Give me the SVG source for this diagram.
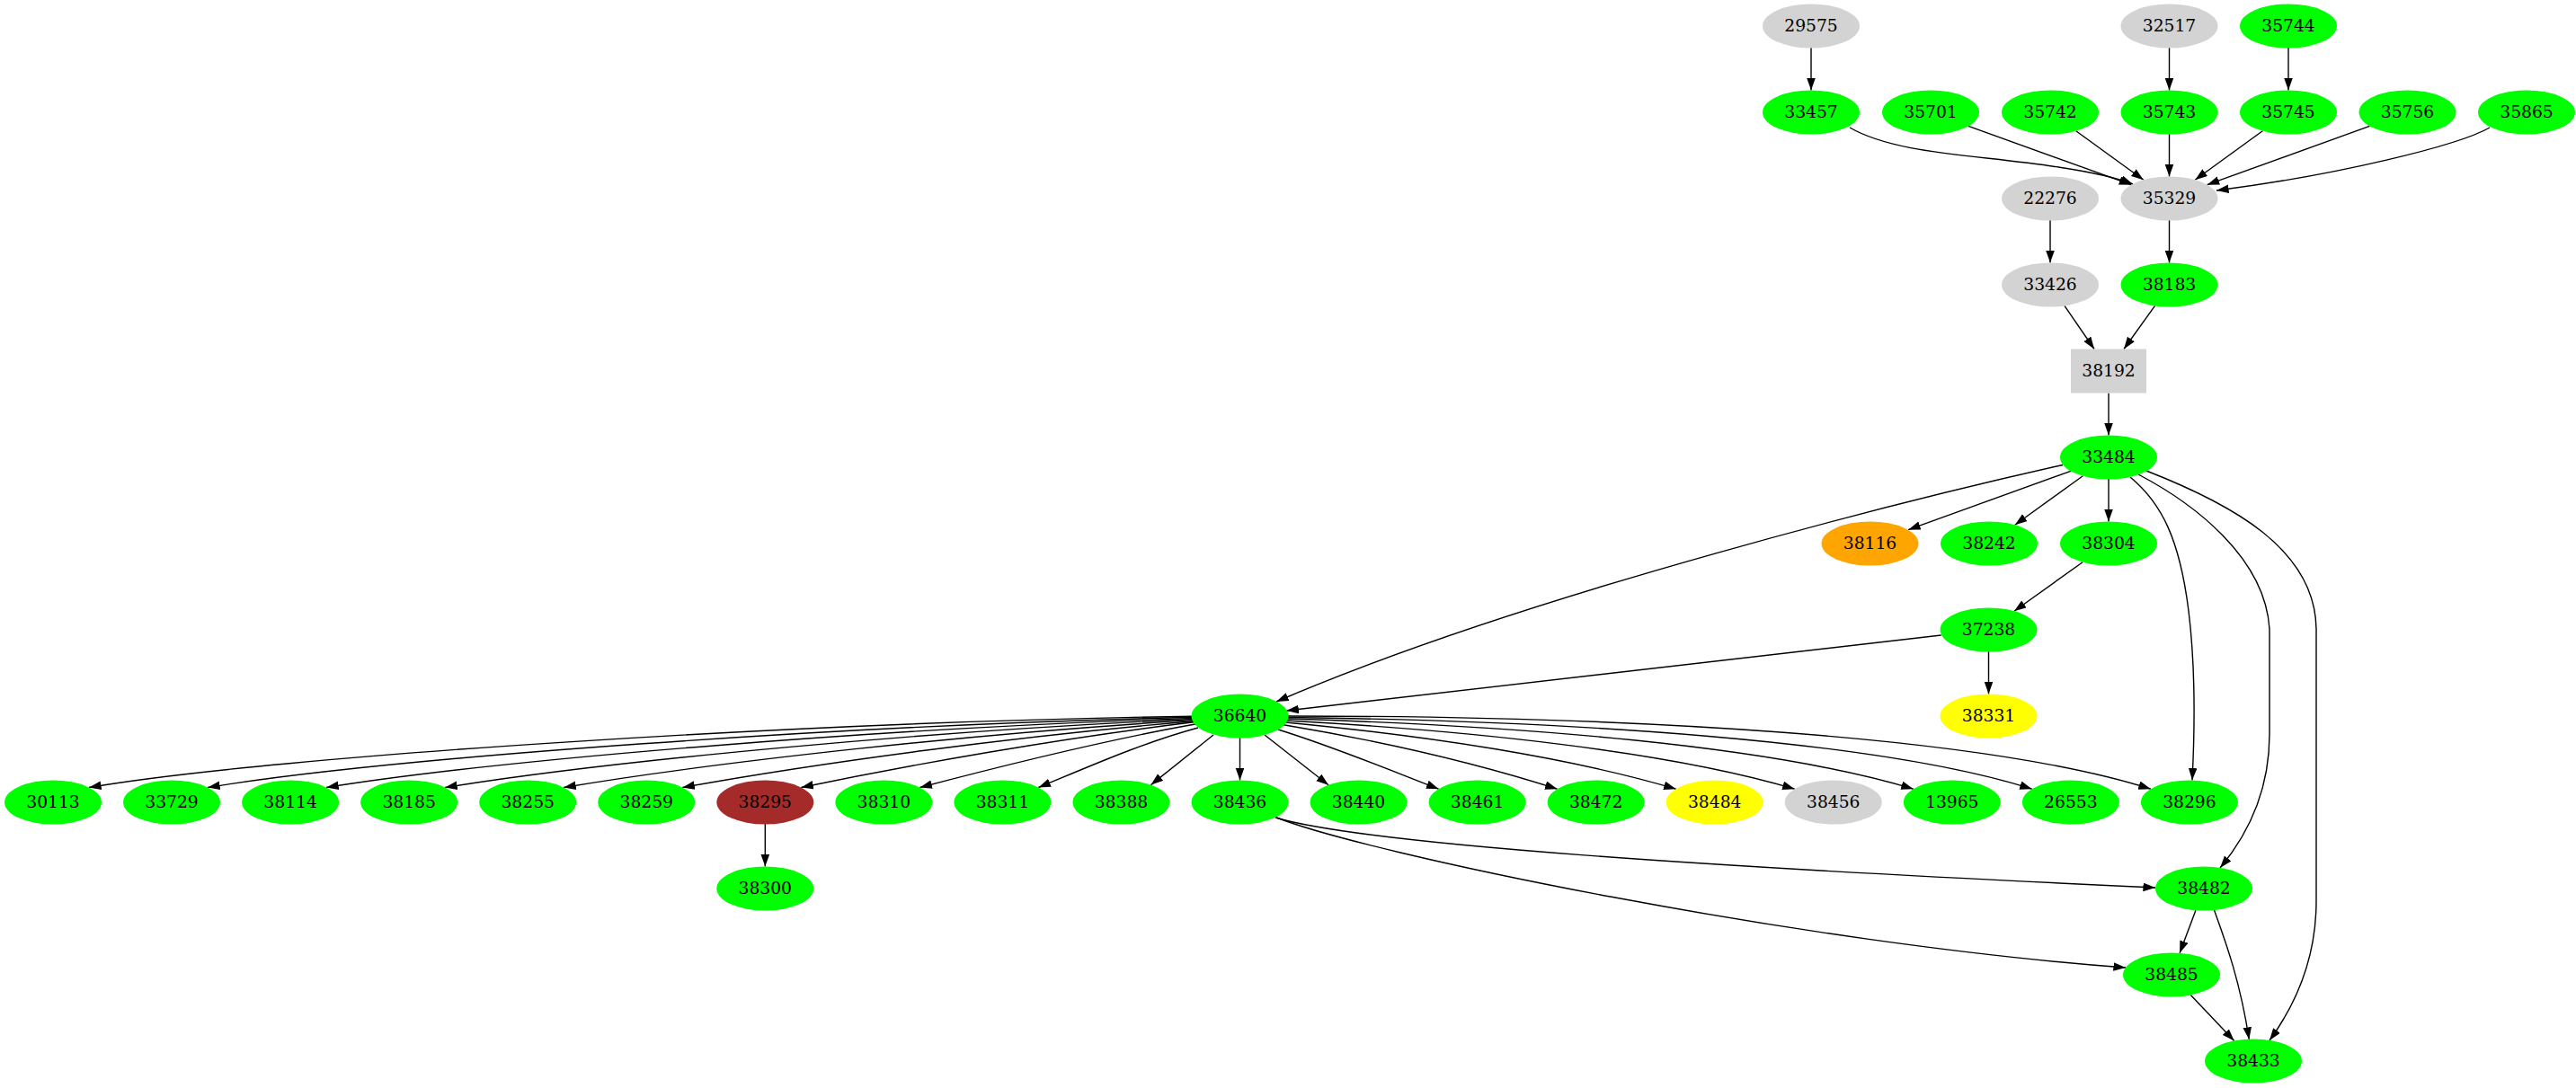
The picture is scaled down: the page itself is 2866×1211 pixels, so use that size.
<svg xmlns="http://www.w3.org/2000/svg" width="2866" height="1211" viewBox="0 0 2866 1211">
<style>
text{font-family:"DejaVu Serif","Liberation Serif",serif;font-size:18.7px;text-anchor:middle;fill:#000}
.g{fill:#00ff00}.l{fill:#d3d3d3}.o{fill:#ffa500}.y{fill:#ffff00}.b{fill:#a52a2a}
.e path{fill:none;stroke:#000;stroke-width:1.4;marker-end:url(#ah)}
</style>
<defs>
<marker id="ah" markerUnits="userSpaceOnUse" markerWidth="14" markerHeight="10" refX="13.6" refY="4.8" orient="auto"><path d="M0,0 L13.6,4.8 L0,9.6 z" fill="#000"/></marker>
</defs>
<rect width="2866" height="1211" fill="#fff"/>
<g id="connectors" class="e">
<path d="M2015,53 L2015,100.5"/>
<path d="M2413.5,53 L2413.5,100.5"/>
<path d="M2546,53 L2546,100.5"/>
<path d="M2058,142 C2110,172 2200,172 2290,186 C2330,192 2355,198 2373,205"/>
<path d="M2190,140.3 L2371.3,205.7"/>
<path d="M2309.7,145.8 L2384.8,200.2"/>
<path d="M2413.5,149 L2413.5,196.5"/>
<path d="M2517.3,145.8 L2442.2,200.2"/>
<path d="M2636.4,140.3 L2455.6,205.7"/>
<path d="M2770,142 C2735,162 2600,195 2466,212"/>
<path d="M2281,245 L2281,292.5"/>
<path d="M2413.5,245 L2413.5,292.5"/>
<path d="M2297,340.4 L2330,388.5"/>
<path d="M2397.5,340.4 L2363,388.5"/>
<path d="M2346,437.5 L2346,484.5"/>
<path d="M2295,517.5 C2150,550 1700,660 1420,781"/>
<path d="M2303.9,524.3 L2123.1,589.7"/>
<path d="M2317.3,529.8 L2241.8,584.2"/>
<path d="M2346,533 L2346,580.5"/>
<path d="M2370,531 C2405,560 2425,600 2435,680 C2443,745 2442,810 2439,868.5"/>
<path d="M2379,528 C2440,560 2520,620 2525,700 L2525,817 C2525,880 2500,930 2470,966"/>
<path d="M2388,524 C2480,560 2576,610 2577,700 L2577,1003 C2577,1060 2560,1110 2525,1158"/>
<path d="M2317.1,625.7 L2240.9,680.3"/>
<path d="M2159.7,707 L1431.3,791"/>
<path d="M2212.5,725 L2212.5,772.5"/>
<path d="M1328,797.2 C901.5,803.5 307.6,840.8 99,876.5"/>
<path d="M1328,798.3 C949.4,806.7 439.1,842.5 231.1,876.5"/>
<path d="M1328,799.4 C996.7,809.8 565.3,844.1 363.1,876.5"/>
<path d="M1328,800.5 C1043.5,812.9 686.3,845.7 495.2,876.5"/>
<path d="M1328,801.6 C1089.8,815.8 802,847.3 627.2,876.5"/>
<path d="M1328,802.7 C1135.6,818.8 912.3,848.8 759.3,876.5"/>
<path d="M1328,803.8 C1180.8,821.6 1017.4,850.3 891.3,876.5"/>
<path d="M1330,806 C1225.5,824.4 1117.2,851.8 1023.4,876.5"/>
<path d="M1333,810 C1269.7,827.2 1211.7,853.2 1155.4,876.5"/>
<path d="M1350,818 L1280.5,873.6"/>
<path d="M1379.5,821 L1379.5,868.5"/>
<path d="M1407,818 L1478,873.8"/>
<path d="M1422,812 C1485.6,831.8 1544,856.2 1600.6,878.2"/>
<path d="M1428,806.7 C1534.6,824.5 1642.6,849.5 1732.6,878.2"/>
<path d="M1430,804 C1584,818.8 1743.8,842.5 1864.7,878.2"/>
<path d="M1431,802 C1636,813.4 1855.8,836.2 1996.7,878.2"/>
<path d="M1432,800 C1690.4,807.8 1968.8,829.6 2128.8,878.2"/>
<path d="M1432,798.5 C1743.4,802.5 2087,823.1 2260.8,878.2"/>
<path d="M1432,797 C1797.8,797 2201,817.3 2392.9,878.2"/>
<path d="M851.3,917 L851.3,964.5"/>
<path d="M1419,910 C1520,940 1900,965 2398,988"/>
<path d="M1419,909.5 C1520,950 2000,1050 2365,1077"/>
<path d="M2442.9,1013.2 L2425.1,1060.8"/>
<path d="M2463.5,1013 C2475,1045 2492,1090 2502.3,1157"/>
<path d="M2437.3,1107.5 L2485.7,1158.5"/>
</g>
<g id="n29575"><ellipse class="l" cx="2015" cy="29" rx="54" ry="24.5"/><text x="2015" y="35">29575</text></g>
<g id="n32517"><ellipse class="l" cx="2413.5" cy="29" rx="54" ry="24.5"/><text x="2413.5" y="35">32517</text></g>
<g id="n35744"><ellipse class="g" cx="2546" cy="29" rx="54" ry="24.5"/><text x="2546" y="35">35744</text></g>
<g id="n33457"><ellipse class="g" cx="2015" cy="125" rx="54" ry="24.5"/><text x="2015" y="131">33457</text></g>
<g id="n35701"><ellipse class="g" cx="2148" cy="125" rx="54" ry="24.5"/><text x="2148" y="131">35701</text></g>
<g id="n35742"><ellipse class="g" cx="2281" cy="125" rx="54" ry="24.5"/><text x="2281" y="131">35742</text></g>
<g id="n35743"><ellipse class="g" cx="2413.5" cy="125" rx="54" ry="24.5"/><text x="2413.5" y="131">35743</text></g>
<g id="n35745"><ellipse class="g" cx="2546" cy="125" rx="54" ry="24.5"/><text x="2546" y="131">35745</text></g>
<g id="n35756"><ellipse class="g" cx="2678.5" cy="125" rx="54" ry="24.5"/><text x="2678.5" y="131">35756</text></g>
<g id="n35865"><ellipse class="g" cx="2811" cy="125" rx="54" ry="24.5"/><text x="2811" y="131">35865</text></g>
<g id="n22276"><ellipse class="l" cx="2281" cy="221" rx="54" ry="24.5"/><text x="2281" y="227">22276</text></g>
<g id="n35329"><ellipse class="l" cx="2413.5" cy="221" rx="54" ry="24.5"/><text x="2413.5" y="227">35329</text></g>
<g id="n33426"><ellipse class="l" cx="2281" cy="317" rx="54" ry="24.5"/><text x="2281" y="323">33426</text></g>
<g id="n38183"><ellipse class="g" cx="2413.5" cy="317" rx="54" ry="24.5"/><text x="2413.5" y="323">38183</text></g>
<g id="n38192"><rect class="l" x="2304" y="388.5" width="84" height="49"/><text x="2346" y="419">38192</text></g>
<g id="n33484"><ellipse class="g" cx="2346" cy="509" rx="54" ry="24.5"/><text x="2346" y="515">33484</text></g>
<g id="n38116"><ellipse class="o" cx="2080.5" cy="605" rx="54" ry="24.5"/><text x="2080.5" y="611">38116</text></g>
<g id="n38242"><ellipse class="g" cx="2213" cy="605" rx="54" ry="24.5"/><text x="2213" y="611">38242</text></g>
<g id="n38304"><ellipse class="g" cx="2346" cy="605" rx="54" ry="24.5"/><text x="2346" y="611">38304</text></g>
<g id="n37238"><ellipse class="g" cx="2212.5" cy="701" rx="54" ry="24.5"/><text x="2212.5" y="707">37238</text></g>
<g id="n38331"><ellipse class="y" cx="2212.5" cy="797" rx="54" ry="24.5"/><text x="2212.5" y="803">38331</text></g>
<g id="n36640"><ellipse class="g" cx="1379.5" cy="797" rx="54" ry="24.5"/><text x="1379.5" y="803">36640</text></g>
<g id="n30113"><ellipse class="g" cx="59" cy="893" rx="54" ry="24.5"/><text x="59" y="899">30113</text></g>
<g id="n33729"><ellipse class="g" cx="191.05" cy="893" rx="54" ry="24.5"/><text x="191.05" y="899">33729</text></g>
<g id="n38114"><ellipse class="g" cx="323.1" cy="893" rx="54" ry="24.5"/><text x="323.1" y="899">38114</text></g>
<g id="n38185"><ellipse class="g" cx="455.15" cy="893" rx="54" ry="24.5"/><text x="455.15" y="899">38185</text></g>
<g id="n38255"><ellipse class="g" cx="587.2" cy="893" rx="54" ry="24.5"/><text x="587.2" y="899">38255</text></g>
<g id="n38259"><ellipse class="g" cx="719.25" cy="893" rx="54" ry="24.5"/><text x="719.25" y="899">38259</text></g>
<g id="n38295"><ellipse class="b" cx="851.3" cy="893" rx="54" ry="24.5"/><text x="851.3" y="899">38295</text></g>
<g id="n38310"><ellipse class="g" cx="983.35" cy="893" rx="54" ry="24.5"/><text x="983.35" y="899">38310</text></g>
<g id="n38311"><ellipse class="g" cx="1115.4" cy="893" rx="54" ry="24.5"/><text x="1115.4" y="899">38311</text></g>
<g id="n38388"><ellipse class="g" cx="1247.45" cy="893" rx="54" ry="24.5"/><text x="1247.45" y="899">38388</text></g>
<g id="n38436"><ellipse class="g" cx="1379.5" cy="893" rx="54" ry="24.5"/><text x="1379.5" y="899">38436</text></g>
<g id="n38440"><ellipse class="g" cx="1511.55" cy="893" rx="54" ry="24.5"/><text x="1511.55" y="899">38440</text></g>
<g id="n38461"><ellipse class="g" cx="1643.6" cy="893" rx="54" ry="24.5"/><text x="1643.6" y="899">38461</text></g>
<g id="n38472"><ellipse class="g" cx="1775.65" cy="893" rx="54" ry="24.5"/><text x="1775.65" y="899">38472</text></g>
<g id="n38484"><ellipse class="y" cx="1907.7" cy="893" rx="54" ry="24.5"/><text x="1907.7" y="899">38484</text></g>
<g id="n38456"><ellipse class="l" cx="2039.75" cy="893" rx="54" ry="24.5"/><text x="2039.75" y="899">38456</text></g>
<g id="n13965"><ellipse class="g" cx="2171.8" cy="893" rx="54" ry="24.5"/><text x="2171.8" y="899">13965</text></g>
<g id="n26553"><ellipse class="g" cx="2303.85" cy="893" rx="54" ry="24.5"/><text x="2303.85" y="899">26553</text></g>
<g id="n38296"><ellipse class="g" cx="2435.9" cy="893" rx="54" ry="24.5"/><text x="2435.9" y="899">38296</text></g>
<g id="n38300"><ellipse class="g" cx="851.3" cy="989" rx="54" ry="24.5"/><text x="851.3" y="995">38300</text></g>
<g id="n38482"><ellipse class="g" cx="2452" cy="989" rx="54" ry="24.5"/><text x="2452" y="995">38482</text></g>
<g id="n38485"><ellipse class="g" cx="2416" cy="1085" rx="54" ry="24.5"/><text x="2416" y="1091">38485</text></g>
<g id="n38433"><ellipse class="g" cx="2507" cy="1181" rx="54" ry="24.5"/><text x="2507" y="1187">38433</text></g>
</svg>
